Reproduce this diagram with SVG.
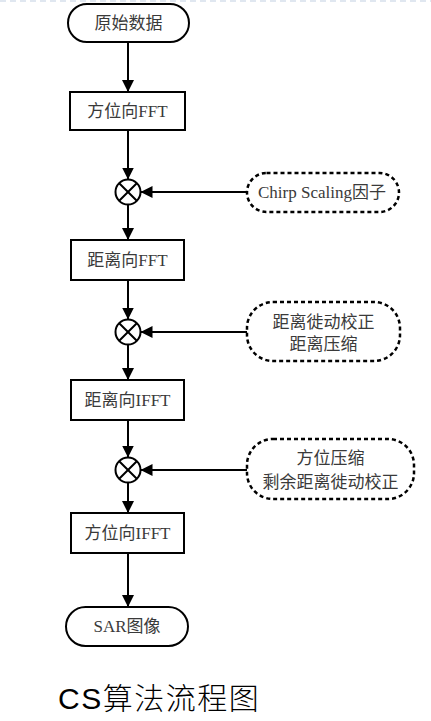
<svg xmlns="http://www.w3.org/2000/svg" width="431" height="721" viewBox="0 0 431 721">
<defs>
<style>
.n{fill:#fff;stroke:#000;stroke-width:2}
.d{fill:#fff;stroke:#000;stroke-width:2.5;stroke-dasharray:4 3}
.t{font-family:"Liberation Serif","Noto Sans CJK SC",serif;font-size:17px;fill:#3a3a3a;text-anchor:middle}
.c{fill:none;stroke:#000;stroke-width:2}
.e{stroke:#000;stroke-width:2;fill:none}
</style>
<marker id="ah" markerWidth="12" markerHeight="12" refX="12" refY="6" orient="auto" markerUnits="userSpaceOnUse">
<path d="M0,0 L12,6 L0,12 Z" fill="#000"/>
</marker>
</defs>
<rect width="431" height="721" fill="#fff"/>
<line x1="0" y1="1" x2="431" y2="1" stroke="#d6e0ec" stroke-width="1.5" stroke-dasharray="6 4"/>
<g id="connectors">
<line class="e" x1="128" y1="42" x2="128" y2="92" marker-end="url(#ah)"/>
<line class="e" x1="128" y1="130" x2="128" y2="179.5" marker-end="url(#ah)"/>
<line class="e" x1="128" y1="204.5" x2="128" y2="240" marker-end="url(#ah)"/>
<line class="e" x1="247" y1="192" x2="140.5" y2="192" marker-end="url(#ah)"/>
<line class="e" x1="128" y1="280" x2="128" y2="319.5" marker-end="url(#ah)"/>
<line class="e" x1="128" y1="344.5" x2="128" y2="380" marker-end="url(#ah)"/>
<line class="e" x1="247" y1="332" x2="140.5" y2="332" marker-end="url(#ah)"/>
<line class="e" x1="128" y1="420" x2="128" y2="457.5" marker-end="url(#ah)"/>
<line class="e" x1="128" y1="482.5" x2="128" y2="513" marker-end="url(#ah)"/>
<line class="e" x1="247" y1="470" x2="140.5" y2="470" marker-end="url(#ah)"/>
<line class="e" x1="128" y1="553" x2="128" y2="607" marker-end="url(#ah)"/>
</g>
<g id="start">
<rect class="n" x="68" y="4" width="121" height="38" rx="19"/>
<text class="t" x="128.5" y="29">原始数据</text>
</g>
<g id="azFFT">
<rect class="n" x="70" y="92" width="115" height="38"/>
<text class="t" x="127.5" y="117">方位向FFT</text>
</g>
<g id="mul1">
<circle class="c" cx="128" cy="192" r="12.5"/>
<path class="c" d="M119.2,183.2 L136.8,200.8 M136.8,183.2 L119.2,200.8"/>
</g>
<g id="chirp">
<rect class="d" x="247" y="173" width="152" height="39" rx="19.5"/>
<text class="t" x="322" y="198">Chirp Scaling因子</text>
</g>
<g id="rgFFT">
<rect class="n" x="71" y="240" width="113" height="40"/>
<text class="t" x="127.5" y="266">距离向FFT</text>
</g>
<g id="mul2">
<circle class="c" cx="128" cy="332" r="12.5"/>
<path class="c" d="M119.2,323.2 L136.8,340.8 M136.8,323.2 L119.2,340.8"/>
</g>
<g id="rcmc">
<rect class="d" x="247" y="302" width="153" height="59" rx="26"/>
<text class="t" x="323.5" y="328">距离徙动校正</text>
<text class="t" x="323.5" y="350">距离压缩</text>
</g>
<g id="rgIFFT">
<rect class="n" x="71" y="380" width="113" height="40"/>
<text class="t" x="127.5" y="406">距离向IFFT</text>
</g>
<g id="mul3">
<circle class="c" cx="128" cy="470" r="12.5"/>
<path class="c" d="M119.2,461.2 L136.8,478.8 M136.8,461.2 L119.2,478.8"/>
</g>
<g id="azcomp">
<rect class="d" x="247" y="439" width="167" height="60" rx="26"/>
<text class="t" x="330.5" y="464">方位压缩</text>
<text class="t" x="330.5" y="488">剩余距离徙动校正</text>
</g>
<g id="azIFFT">
<rect class="n" x="71" y="513" width="113" height="40"/>
<text class="t" x="127.5" y="539">方位向IFFT</text>
</g>
<g id="end">
<rect class="n" x="66" y="607" width="122" height="39" rx="19.5"/>
<text class="t" x="127" y="632">SAR图像</text>
</g>
<text x="58" y="709" font-family="'Liberation Sans','Noto Sans CJK SC',sans-serif" font-size="30" letter-spacing="1.5" fill="#000">CS<tspan font-family="'Noto Sans CJK SC',sans-serif" font-weight="300">算法流程图</tspan></text>
</svg>
